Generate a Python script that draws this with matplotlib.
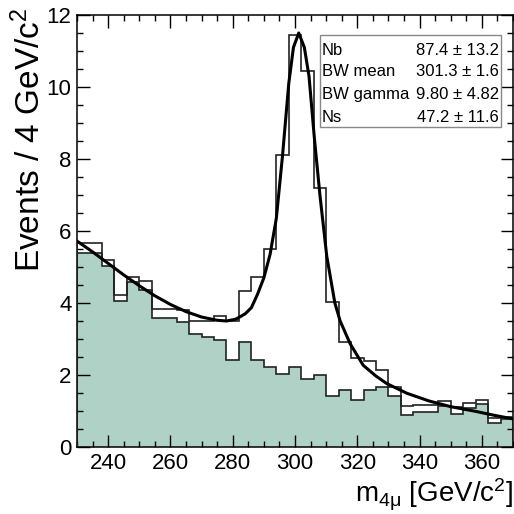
import numpy as np
import matplotlib
matplotlib.use('Agg')
import matplotlib.pyplot as plt
from matplotlib.ticker import MultipleLocator

plt.rcParams['font.family'] = ['Liberation Sans', 'DejaVu Sans']
plt.rcParams['mathtext.fontset'] = 'custom'
plt.rcParams['mathtext.rm'] = 'Liberation Sans'
plt.rcParams['mathtext.it'] = 'Liberation Sans:italic'

# 4 GeV bins from 230 to 370
bin_edges = np.arange(230, 374, 4)

# total (signal + background) histogram
total = [5.66, 5.66, 5.20, 4.21, 4.72, 4.62, 3.84, 3.84, 3.80, 3.50,
         3.50, 3.65, 3.50, 4.33, 4.72, 5.51, 8.12, 11.44, 10.45, 7.20,
         4.03, 2.93, 2.48, 2.40, 2.13, 1.67, 1.14, 1.18, 1.16, 1.29,
         1.10, 1.22, 1.31, 0.80, 0.82]

# background histogram (filled)
background = [5.40, 5.40, 5.03, 4.06, 4.59, 4.35, 3.57, 3.57, 3.47, 3.15,
              3.05, 2.98, 2.41, 2.91, 2.43, 2.23, 2.04, 2.21, 1.90, 2.00,
              1.43, 1.59, 1.31, 1.59, 1.66, 1.41, 0.90, 0.97, 0.98, 1.14,
              0.91, 1.07, 1.19, 0.66, 0.77]

# fit curve
fit_m = [230, 235, 240, 245, 250, 255, 260, 265, 270, 275, 278, 281, 284,
         286, 288, 290, 292, 294, 296, 298, 299.5, 301.2, 303, 304.5,
         306.2, 308, 310.2, 312.8, 314.5, 317.7, 321.9, 326, 329.5, 336,
         343, 350, 358, 364, 370]
fit_v = [5.72, 5.42, 5.10, 4.78, 4.48, 4.20, 3.96, 3.76, 3.61, 3.52, 3.50,
         3.55, 3.70, 3.87, 4.25, 4.70, 5.35, 6.35, 8.10, 10.10, 11.10, 11.50,
         11.10, 10.30, 8.60, 7.00, 5.30, 4.00, 3.50, 2.87, 2.27, 1.97, 1.76,
         1.49, 1.28, 1.12, 0.99, 0.88, 0.78]

par_names = ['Nb', 'BW mean', 'BW gamma', 'Ns']
par_values = ['87.4 \u00b1 13.2', '301.3 \u00b1 1.6', '9.80 \u00b1 4.82', '47.2 \u00b1 11.6']

fig = plt.figure(figsize=(5.14, 5.14), dpi=100)
ax = fig.add_axes([77/514, 67/514, 436/514, 432/514])

ax.stairs(background, bin_edges, fill=True, color='#b0d1c6', zorder=1)
ax.stairs(background, bin_edges, color='#222222', lw=1.2, zorder=2)
ax.stairs(total, bin_edges, color='#222222', lw=1.2, zorder=3)
ax.plot(fit_m, fit_v, color='black', lw=2.2, zorder=4)

ax.set_xlim(230, 370)
ax.set_ylim(0, 12)
ax.xaxis.set_major_locator(MultipleLocator(20))
ax.xaxis.set_minor_locator(MultipleLocator(5))
ax.yaxis.set_major_locator(MultipleLocator(2))
ax.yaxis.set_minor_locator(MultipleLocator(0.5))
ax.tick_params(which='both', direction='in', top=True, right=True, width=1)
ax.tick_params(which='major', length=9, labelsize=16, pad=4)
ax.tick_params(which='minor', length=4.5)
for s in ax.spines.values():
    s.set_linewidth(1.1)

ax.text(-0.108, 1.018, 'Events / 4 GeV/c$^{\\mathrm{2}}$', transform=ax.transAxes,
        rotation=90, ha='center', va='top', fontsize=24)
ax.text(1.0, -0.07, 'm$_{\\mathrm{4\\mu}}$ [GeV/c$^{\\mathrm{2}}$]', transform=ax.transAxes,
        ha='right', va='top', fontsize=20)

# parameter box
x0, x1 = (320 - 77) / 436, (501 - 77) / 436
y0, y1 = (447 - 127) / 432, (447 - 35) / 432
ax.add_patch(plt.Rectangle((x0, y0), x1 - x0, y1 - y0, transform=ax.transAxes,
                           facecolor='white', edgecolor='#888888', lw=1, zorder=5))
rows = [50.7, 71.7, 94.3, 117.3]
for name, val, ypix in zip(par_names, par_values, rows):
    yy = (447 - ypix) / 432
    ax.text((322 - 77) / 436, yy, name, transform=ax.transAxes, ha='left',
            va='center', fontsize=12, zorder=6)
    ax.text((499 - 77) / 436, yy, val, transform=ax.transAxes, ha='right',
            va='center', fontsize=12, zorder=6)

fig.savefig('out.png', dpi=100)
